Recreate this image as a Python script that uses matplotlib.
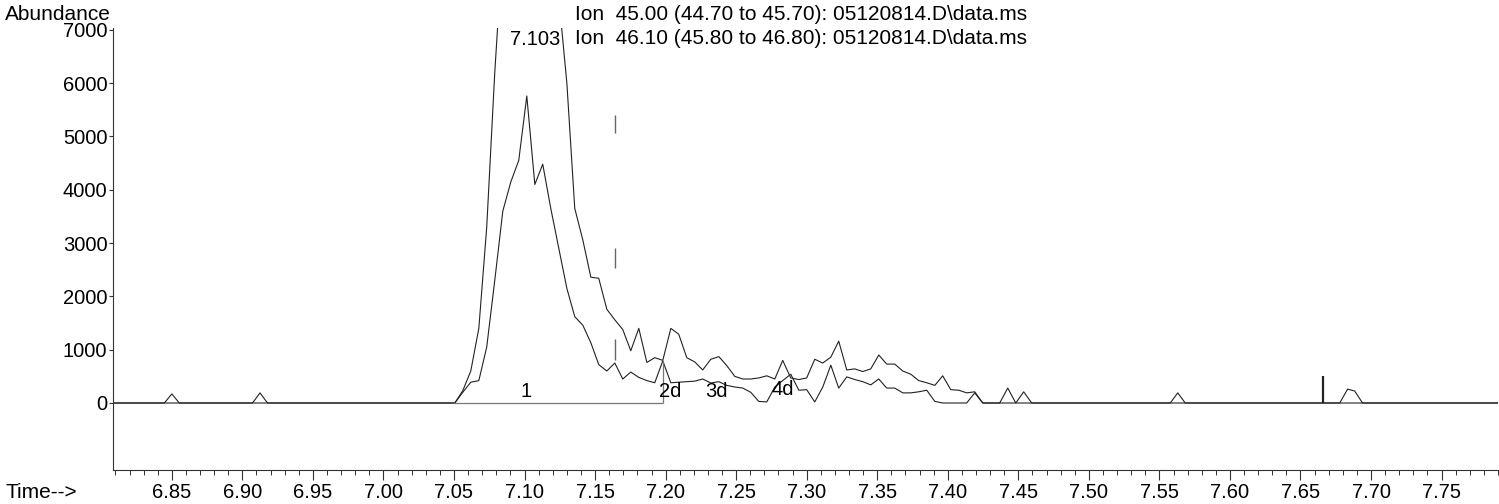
import numpy as np
import matplotlib.pyplot as plt
from matplotlib.ticker import MultipleLocator, FixedLocator

plt.rcParams['font.family'] = ['Liberation Sans', 'DejaVu Sans']

# scan times across the main peak (min), shared by both ions
peak_time = [7.0449, 7.0506, 7.0562, 7.0619, 7.0676, 7.0732, 7.0789, 7.0846, 7.0903, 7.0959,
             7.1016, 7.1073, 7.1129, 7.1186, 7.1243, 7.1300, 7.1356, 7.1413, 7.1470, 7.1526,
             7.1583, 7.1640, 7.1696, 7.1753, 7.1810, 7.1867, 7.1923, 7.1980, 7.2037, 7.2093,
             7.2150, 7.2207, 7.2263, 7.2320, 7.2377, 7.2434, 7.2490, 7.2547, 7.2604, 7.2660,
             7.2717, 7.2774, 7.2830, 7.2887, 7.2944, 7.3000, 7.3057, 7.3114, 7.3171, 7.3227,
             7.3284, 7.3341, 7.3397, 7.3454, 7.3511, 7.3567, 7.3624, 7.3681, 7.3738, 7.3794,
             7.3851, 7.3908, 7.3964, 7.4021, 7.4078, 7.4134, 7.4191, 7.4248]

ion45_peak = [0, 0, 230, 600, 1400, 3300, 6200, 8600, 9500, 10300,
              10700, 10400, 9700, 8800, 7600, 6000, 3650, 3060, 2360, 2340,
              1760, 1560, 1380, 980, 1400, 760, 850, 800, 1400, 1290,
              850, 770, 620, 820, 870, 700, 500, 450, 450, 470,
              510, 450, 800, 470, 440, 470, 820, 750, 860, 1160,
              620, 640, 590, 640, 900, 730, 730, 600, 540, 420,
              380, 330, 510, 250, 240, 190, 210, 0]

ion46_peak = [0, 0, 200, 390, 420, 1050, 2300, 3600, 4150, 4550,
              5760, 4100, 4480, 3650, 2900, 2150, 1620, 1460, 1130, 720,
              600, 750, 450, 580, 480, 420, 380, 790, 380, 390,
              400, 410, 450, 375, 400, 330, 300, 280, 200, 30,
              20, 300, 420, 540, 240, 250, 20, 300, 710, 280,
              490, 440, 400, 340, 450, 280, 280, 190, 190, 210,
              240, 30, 0, 0, 0, 0, 190, 0]

# small features away from the main peak
ion45_pre_time, ion45_pre = [6.808], [0]
ion45_post_time = [7.4368, 7.4425, 7.4482, 7.4538, 7.4595, 7.6778, 7.6834, 7.6884, 7.6940, 7.79]
ion45_post = [0, 280, 0, 210, 0, 0, 260, 225, 0, 0]

ion46_pre_time = [6.808, 6.8447, 6.8500, 6.8553, 6.9072, 6.9125, 6.9178]
ion46_pre = [0, 0, 170, 0, 0, 190, 0]
ion46_post_time = [7.5577, 7.5630, 7.5683, 7.79]
ion46_post = [0, 190, 0, 0]

# integration marks
base_start, base_end, drop_height = 7.049, 7.198, 790
split_time = 7.164
split_lo = [5070, 2530, 810]
split_hi = [5400, 2910, 1200]
event_time, event_height = 7.6657, 500

peak_labels = ['1', '2d', '3d', '4d']
peak_label_time = [7.101, 7.203, 7.236, 7.283]
peak_label_y = [210, 210, 210, 245]

y_ticks = [0, 1000, 2000, 3000, 4000, 5000, 6000, 7000]

legend_lines = [r'Ion  45.00 (44.70 to 45.70): 05120814.D\data.ms',
                r'Ion  46.10 (45.80 to 46.80): 05120814.D\data.ms']

t45 = np.concatenate([ion45_pre_time, peak_time, ion45_post_time])
y45 = np.concatenate([ion45_pre, ion45_peak, ion45_post])
t46 = np.concatenate([ion46_pre_time, peak_time, ion46_post_time])
y46 = np.concatenate([ion46_pre, ion46_peak, ion46_post])

W, H = 1499, 504
fig = plt.figure(figsize=(W / 100, H / 100), dpi=100)
ax = fig.add_axes([113 / W, 1 - 470 / H, (1498 - 113) / W, (470 - 28) / H])

lc = '#222222'
ax.plot(t45, y45, color=lc, lw=0.8)
ax.plot(t46, y46, color=lc, lw=0.8)

ax.hlines(0, base_start, base_end, color='#777777', lw=0.9)
ax.vlines(base_end, 0, drop_height, color='#777777', lw=0.9)
ax.vlines([split_time] * 3, split_lo, split_hi, color='#666666', lw=1.0)
ax.vlines(event_time, 0, event_height, color='#222222', lw=1.6)

fs = 14.5
for lab, tx, ty in zip(peak_labels, peak_label_time, peak_label_y):
    ax.text(tx, ty, lab, ha='center', va='center', fontsize=fs)
ax.text(7.1075, 6810, '7.103', ha='center', va='center', fontsize=fs)

ax.set_xlim(6.8083, 7.79)
ax.set_ylim(-1257, 7035)

ax.xaxis.set_major_locator(MultipleLocator(0.05))
ax.xaxis.set_minor_locator(MultipleLocator(0.01))
ax.yaxis.set_major_locator(FixedLocator(y_ticks))
ax.xaxis.set_major_formatter(plt.FormatStrFormatter('%.2f'))

ax.spines['top'].set_visible(False)
ax.spines['right'].set_visible(False)
for s in ['left', 'bottom']:
    ax.spines[s].set_color('#333333')
    ax.spines[s].set_linewidth(0.8)

# tick lengths in points (~10 px major, ~5 px minor)
ax.tick_params(axis='x', which='major', direction='out', length=7.2, width=0.8, pad=2.5,
               labelsize=fs, color='#333333')
ax.tick_params(axis='x', which='minor', direction='out', length=3.6, width=0.7, color='#333333')
ax.tick_params(axis='y', which='major', direction='out', length=3, width=0.8, pad=1,
               labelsize=fs, color='#333333')

fig.text(5 / W, 1 - 14 / H, 'Abundance', ha='left', va='center', fontsize=15)
fig.text(5 / W, 1 - 492 / H, 'Time-->', ha='left', va='center', fontsize=15)
for i, line in enumerate(legend_lines):
    fig.text(575 / W, 1 - (14 + 24 * i) / H, line, ha='left', va='center', fontsize=15)

fig.savefig('out.png', dpi=100)
